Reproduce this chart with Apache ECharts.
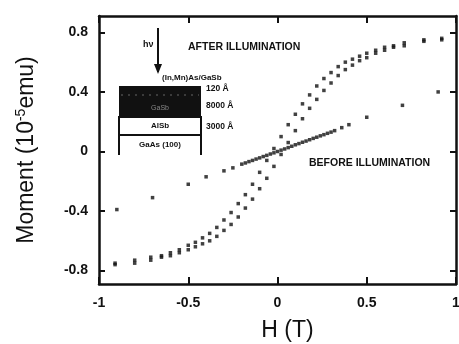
<!DOCTYPE html>
<html>
<head>
<meta charset="utf-8">
<script src="https://cdn.jsdelivr.net/npm/echarts@6/dist/echarts.min.js"></script>
<style>
  html, body { margin: 0; padding: 0; background: #fff; }
  #chart { width: 459px; height: 344px; }
</style>
</head>
<body>
<div id="chart"></div>
<script>
// field values (T) shared by both branches of the loop
var loopField = [0.92, 0.82, 0.71, 0.65, 0.6, 0.55, 0.5, 0.46, 0.42, 0.38, 0.34, 0.3, 0.26, 0.22, 0.18, 0.14, 0.1, 0.06, 0.02,
    -0.02, -0.06, -0.1, -0.14, -0.18, -0.22, -0.26, -0.3, -0.34, -0.38, -0.42, -0.46, -0.5, -0.55, -0.6, -0.65, -0.71, -0.8, -0.91];
// after illumination, descending branch
var afterDown = [0.76, 0.75, 0.73, 0.71, 0.7, 0.68, 0.66, 0.64, 0.62, 0.6, 0.57, 0.53, 0.49, 0.44, 0.38, 0.32, 0.25, 0.18, 0.1,
    0.02, -0.06, -0.14, -0.22, -0.29, -0.35, -0.41, -0.46, -0.51, -0.55, -0.58, -0.61, -0.63, -0.66, -0.68, -0.7, -0.71, -0.73, -0.75];
// after illumination, ascending branch
var afterUp = [0.75, 0.74, 0.71, 0.7, 0.68, 0.66, 0.63, 0.61, 0.58, 0.55, 0.51, 0.46, 0.41, 0.35, 0.29, 0.22, 0.14, 0.06, -0.02,
    -0.1, -0.18, -0.25, -0.32, -0.38, -0.44, -0.49, -0.53, -0.57, -0.6, -0.62, -0.64, -0.66, -0.68, -0.7, -0.71, -0.73, -0.75, -0.76];
// before illumination
var beforeField = [-0.9, -0.7, -0.5, -0.4, -0.3, -0.25, -0.2, -0.18, -0.16, -0.14, -0.12, -0.1, -0.08, -0.06, -0.04, -0.02, 0,
    0.02, 0.04, 0.06, 0.08, 0.1, 0.12, 0.14, 0.16, 0.18, 0.2, 0.22, 0.24, 0.26, 0.28, 0.3, 0.32, 0.36, 0.4, 0.5, 0.7, 0.9];
var beforeMoment = [-0.39, -0.31, -0.22, -0.17, -0.13, -0.11, -0.085, -0.077, -0.068, -0.06, -0.051, -0.043, -0.034, -0.026, -0.017, -0.009, 0,
    0.009, 0.017, 0.026, 0.035, 0.045, 0.053, 0.062, 0.07, 0.079, 0.088, 0.096, 0.105, 0.113, 0.122, 0.13, 0.14, 0.16, 0.18, 0.23, 0.31, 0.4];
var xTicks = [-1, -0.5, 0, 0.5, 1];
var yTicks = [-0.8, -0.4, 0, 0.4, 0.8];
var layerNames = ['(In,Mn)As/GaSb', 'GaSb', 'AlSb', 'GaAs (100)'];
var layerThick = ['120 Å', '8000 Å', '3000 Å'];

function pairs(xs, ys) {
    return xs.map(function (x, i) { return [x, ys[i]]; });
}

var chart = echarts.init(document.getElementById('chart'));
var ink = '#111';
var font = 'Liberation Sans, Arial, sans-serif';

var dotSeries = function (name, data) {
    return {
        name: name,
        type: 'scatter',
        data: data,
        symbol: 'rect',
        symbolSize: [3.5, 3.5],
        itemStyle: { color: ink },
        silent: true
    };
};

var frameLine = { onZero: false, lineStyle: { color: ink, width: 2.5 } };
var frameTick = { inside: true, length: 7, lineStyle: { color: ink, width: 2 } };
var tickFont = { color: ink, fontSize: 14, fontWeight: 'bold', fontFamily: font };

var option = {
    animation: false,
    backgroundColor: '#fff',
    grid: { left: 99, right: 3, top: 16, bottom: 60, containLabel: false, outerBoundsMode: 'none' },
    xAxis: [
        {
            type: 'value',
            min: -1,
            max: 1,
            interval: 0.5,
            name: 'H (T)',
            nameLocation: 'middle',
            nameGap: 35,
            nameTextStyle: { fontSize: 23, color: ink, fontFamily: font, padding: [0, 0, 0, 20] },
            axisLine: frameLine,
            axisTick: frameTick,
            axisLabel: Object.assign({ margin: 12 }, tickFont),
            splitLine: { show: false }
        },
        {
            type: 'value',
            position: 'top',
            min: -1,
            max: 1,
            interval: 0.5,
            axisLine: frameLine,
            axisTick: frameTick,
            axisLabel: { show: false },
            splitLine: { show: false }
        }
    ],
    yAxis: [
        {
            type: 'value',
            min: -0.89,
            max: 0.91,
            name: 'Moment (10{sup|-5}emu)',
            nameLocation: 'middle',
            nameGap: 59,
            nameTextStyle: {
                fontSize: 23, color: ink, fontFamily: font,
                rich: { sup: { fontSize: 14, color: ink, fontFamily: font, verticalAlign: 'top', padding: [0, 0, 12, 0] } }
            },
            axisLine: frameLine,
            axisTick: { inside: true, length: 6, customValues: yTicks, lineStyle: { color: ink, width: 2 } },
            axisLabel: Object.assign({ margin: 11, customValues: yTicks }, tickFont),
            splitLine: { show: false }
        },
        {
            type: 'value',
            position: 'right',
            min: -0.89,
            max: 0.91,
            axisLine: frameLine,
            axisTick: { inside: true, length: 6, customValues: yTicks, lineStyle: { color: ink, width: 2 } },
            axisLabel: { show: false, customValues: yTicks },
            splitLine: { show: false }
        }
    ],
    series: [
        dotSeries('after down', pairs(loopField, afterDown)),
        dotSeries('after up', pairs(loopField, afterUp)),
        dotSeries('before', pairs(beforeField, beforeMoment))
    ],
    graphic: [
        { type: 'text', left: 188, top: 42, style: { text: 'AFTER ILLUMINATION', font: 'bold 10.5px ' + font, fill: ink } },
        { type: 'text', left: 309, top: 158, style: { text: 'BEFORE ILLUMINATION', font: 'bold 10.5px ' + font, fill: ink } },
        // light arrow
        { type: 'line', shape: { x1: 158, y1: 28, x2: 158, y2: 72 }, style: { stroke: ink, lineWidth: 2 } },
        { type: 'polygon', shape: { points: [[154, 64], [162, 64], [158, 74]] }, style: { fill: ink } },
        { type: 'text', left: 143, top: 40, style: { text: 'hν', font: 'bold 9px ' + font, fill: ink } },
        { type: 'text', left: 162, top: 74, style: { text: layerNames[0], font: 'bold 8px ' + font, fill: ink } },
        // layer stack
        { type: 'rect', shape: { x: 119, y: 86, width: 82, height: 31 }, style: { fill: ink } },
        { type: 'line', shape: { x1: 121, y1: 95, x2: 199, y2: 95 }, style: { stroke: '#666', lineWidth: 1, lineDash: [2, 5] } },
        { type: 'text', x: 160, y: 108, style: { text: layerNames[1], font: '7px ' + font, fill: '#888', align: 'center', verticalAlign: 'middle' } },
        { type: 'rect', shape: { x: 119, y: 117, width: 82, height: 18 }, style: { fill: '#fff', stroke: ink, lineWidth: 2 } },
        { type: 'text', x: 160, y: 126, style: { text: layerNames[2], font: 'bold 8px ' + font, fill: ink, align: 'center', verticalAlign: 'middle' } },
        { type: 'polyline', shape: { points: [[119, 135], [119, 155]] }, style: { stroke: ink, lineWidth: 2 } },
        { type: 'polyline', shape: { points: [[201, 135], [201, 155]] }, style: { stroke: ink, lineWidth: 2 } },
        { type: 'text', x: 160, y: 145, style: { text: layerNames[3], font: 'bold 8px ' + font, fill: ink, align: 'center', verticalAlign: 'middle' } },
        { type: 'text', left: 206, top: 84, style: { text: layerThick[0], font: 'bold 8.5px ' + font, fill: ink } },
        { type: 'text', left: 206, top: 101, style: { text: layerThick[1], font: 'bold 8.5px ' + font, fill: ink } },
        { type: 'text', left: 206, top: 122, style: { text: layerThick[2], font: 'bold 8.5px ' + font, fill: ink } }
    ]
};

chart.setOption(option);
</script>
</body>
</html>
